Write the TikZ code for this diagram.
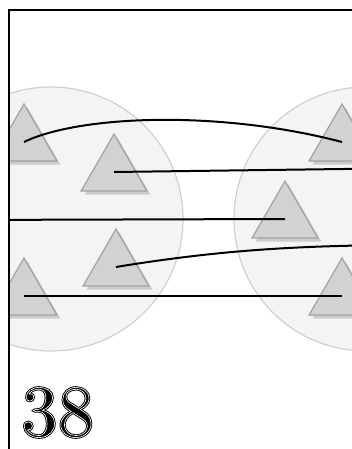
\documentclass[tikz,border=0pt]{standalone}
\usepackage{fontspec}
\usetikzlibrary{shapes.geometric,shadows}
\newfontfamily\numfont{lmroman10-regular.otf}
\definecolor{discfill}{HTML}{F4F4F4}
\definecolor{discline}{HTML}{D0D0D0}
\definecolor{trifill}{HTML}{D2D2D2}
\definecolor{triline}{HTML}{A2A2A2}
% cifras grabadas: trazo grueso negro con filete blanco
\newcommand{\engraved}[1]{{\rlap{\special{pdf:literal direct 0 g 0 G 2.4 w 2 Tr}#1}%
    \special{pdf:literal direct 1 G 0.6 w 1 Tr}#1\special{pdf:literal direct 0 Tr 0 G 0 g}}}
\begin{document}
\begin{tikzpicture}[x=1pt,y=-1pt,
    disc/.style={fill=discfill, draw=discline, line width=1.2pt},
    tri/.style={regular polygon, regular polygon sides=3, minimum size=76pt, inner sep=0pt,
                fill=trifill, draw=triline, line width=1.2pt,
                drop shadow={shadow xshift=3.5pt, shadow yshift=-3.5pt, fill=black!30, opacity=0.6}},
    link/.style={black, line width=2pt}]
    \useasboundingbox (0,0) rectangle (352,449);

    \begin{scope}
        \clip (9,10) rectangle (352,449);

        % Dos grupos
        \draw[disc] (51,219) circle (132);
        \draw[disc] (366,219) circle (132);

        % Triangulos del grupo izquierdo
        \node[tri] (t1) at (24,142) {};
        \node[tri] (t2) at (114,172) {};
        \node[tri] (t3) at (116,267) {};
        \node[tri] (t4) at (24,296) {};

        % Triangulos del grupo derecho
        \node[tri] (t5) at (342,142) {};
        \node[tri] (t6) at (285,219) {};
        \node[tri] (t7) at (342,296) {};

        % Extremos fuera del cuadro
        \coordinate (outB) at (420,168);
        \coordinate (outC) at (-40,220);
        \coordinate (outD) at (420,245);

        % Enlaces
        \draw[link] (t1.center) .. controls (80,115) and (220,110) .. (t5.center);
        \draw[link] (t2.center) -- (outB);
        \draw[link] (outC) -- (t6.center);
        \draw[link] (t3.center) .. controls (220,250) and (300,245) .. (outD);
        \draw[link] (t4.center) -- (t7.center);
    \end{scope}

    % Marco
    \draw[line width=2.5pt] (9,449) -- (9,10) -- (352,10);

    % Numero
    \node[anchor=base west, inner sep=0pt, font=\numfont\fontsize{73}{73}\selectfont] (num) at (21,436)
        {\engraved{38}};
\end{tikzpicture}
\end{document}
